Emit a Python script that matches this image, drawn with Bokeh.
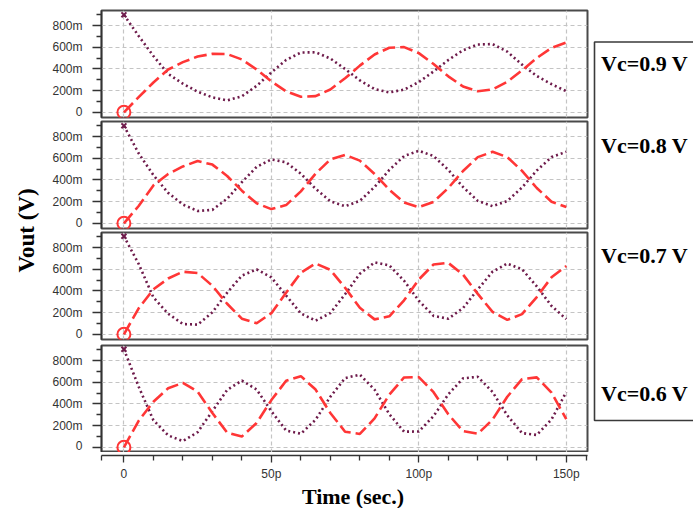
from bokeh.plotting import figure
from bokeh.layouts import row, column
from bokeh.models import Range1d, LinearAxis, FixedTicker, Grid
from bokeh.embed import file_html
from bokeh.resources import INLINE
from bokeh.core.properties import value
import math

# ---------------- data ----------------
time_ps = [0, 5, 10, 15, 20, 25, 30, 35, 40, 45, 50, 55, 60, 65, 70, 75,
           80, 85, 90, 95, 100, 105, 110, 115, 120, 125, 130, 135, 140, 145, 150]

vc_labels = ["Vc=0.9 V", "Vc=0.8 V", "Vc=0.7 V", "Vc=0.6 V"]

# values in mV
red_09 = [0, 140, 275, 395, 463, 515, 540, 538, 488, 395, 286, 193, 143, 149, 211, 314,
          431, 534, 596, 602, 546, 446, 332, 238, 194, 211, 281, 387, 501, 595, 644]
purple_09 = [900, 705, 520, 355, 264, 190, 138, 110, 148, 244, 368, 483, 552, 554, 497, 400,
             295, 214, 184, 209, 279, 377, 483, 573, 626, 630, 560, 440, 335, 260, 195]

red_08 = [0, 160, 350, 455, 525, 575, 542, 437, 301, 185, 131, 168, 295, 458, 589, 632,
          579, 456, 310, 193, 149, 198, 326, 483, 611, 660, 611, 484, 326, 199, 150]
purple_08 = [900, 646, 445, 281, 173, 114, 124, 227, 380, 521, 590, 563, 458, 319, 203, 158,
             207, 335, 493, 621, 670, 621, 493, 335, 207, 158, 206, 331, 487, 612, 660]

red_07 = [0, 240, 415, 515, 578, 566, 448, 282, 144, 102, 195, 384, 569, 654, 595, 430,
          245, 138, 166, 314, 506, 645, 659, 551, 373, 207, 133, 186, 344, 526, 630]
purple_07 = [905, 650, 340, 190, 95, 89, 203, 384, 542, 600, 525, 358, 193, 126, 196, 370,
             559, 664, 636, 495, 310, 170, 144, 242, 414, 578, 653, 600, 443, 262, 140]

red_06 = [0, 245, 420, 545, 595, 514, 316, 136, 100, 224, 436, 614, 657, 533, 317, 144,
          123, 267, 486, 645, 648, 509, 305, 149, 125, 256, 467, 629, 646, 505, 260]
purple_06 = [905, 560, 250, 110, 57, 140, 334, 530, 616, 534, 333, 155, 125, 255, 467, 639,
             671, 532, 306, 144, 146, 288, 489, 637, 651, 511, 295, 131, 114, 257, 510]

y_ticks = [0, 200, 400, 600, 800]
y_minor_ticks = [100, 300, 500, 700, 900]
y_tick_labels = ["0", "200m", "400m", "600m", "800m"]
x_ticks = [0, 50, 100, 150]
x_minor_ticks = [-7.5, 10, 20, 30, 40, 60, 70, 80, 90, 110, 120, 130, 140, 157]
x_tick_labels = ["0", "50p", "100p", "150p"]
x_title = "Time (sec.)"
y_title = "Vout (V)"

# ---------------- styling ----------------
RED = "#ff3636"
PURPLE = "#6e1b4b"
GRID = "#c4c4c4"
AXIS = "#333333"
SANS = "Liberation Sans"
SERIF = "Liberation Serif"

xr = Range1d(-7.6, 157.2)


def panel(red, purple, top, bottom):
    p = figure(width=550, height=top + 107 + bottom, x_range=xr, y_range=Range1d(-48, 940),
               x_axis_type=None, y_axis_type=None, toolbar_location=None,
               output_backend="svg", min_border_left=61, min_border_right=3,
               min_border_top=top, min_border_bottom=bottom)
    p.outline_line_color = "#4a4a4a"
    p.outline_line_width = 2
    yax = LinearAxis(ticker=FixedTicker(ticks=y_ticks, minor_ticks=y_minor_ticks),
                     major_label_overrides=dict(zip(y_ticks, y_tick_labels)))
    yax.axis_line_color = AXIS
    yax.axis_line_width = 1.5
    yax.major_tick_line_color = AXIS
    yax.minor_tick_line_color = AXIS
    yax.major_tick_line_width = 1.3
    yax.minor_tick_line_width = 1.3
    yax.major_tick_out = 9
    yax.major_tick_in = 0
    yax.minor_tick_out = 5
    yax.minor_tick_in = 0
    yax.major_label_standoff = 10
    yax.major_label_text_font = SANS
    yax.major_label_text_font_size = "12px"
    yax.major_label_text_color = "#333333"
    p.add_layout(yax, "left")
    p.add_layout(Grid(dimension=1, ticker=FixedTicker(ticks=y_ticks), grid_line_color=GRID,
                      grid_line_dash="4 3", grid_line_width=1.2))
    p.add_layout(Grid(dimension=0, ticker=FixedTicker(ticks=x_ticks), grid_line_color=GRID,
                      grid_line_dash="4 3", grid_line_width=1.2))
    p.line(time_ps, purple, line_color=PURPLE, line_width=2.6, line_dash="2 3")
    p.line(time_ps, red, line_color=RED, line_width=2.6, line_dash="13 5")
    p.scatter([time_ps[0]], [red[0]], marker="circle", size=13, fill_color=None,
              line_color=RED, line_width=2)
    p.scatter([time_ps[0]], [purple[0]], marker="x", size=7, line_color=PURPLE, line_width=2)
    return p


f1 = panel(red_09, purple_09, 10, 2)
f2 = panel(red_08, purple_08, 2, 2)
f3 = panel(red_07, purple_07, 2, 4)
f4 = panel(red_06, purple_06, 2, 0)

# bottom time axis (frame only 6 px tall, axis hangs below it)
f5 = figure(width=550, height=31, x_range=xr, y_range=Range1d(0, 1),
            x_axis_type=None, y_axis_type=None, toolbar_location=None,
            output_backend="svg", min_border_left=61, min_border_right=3,
            min_border_top=0, min_border_bottom=25)
f5.outline_line_color = None
xax = LinearAxis(ticker=FixedTicker(ticks=x_ticks, minor_ticks=x_minor_ticks),
                 major_label_overrides=dict(zip(x_ticks, x_tick_labels)))
xax.axis_line_color = AXIS
xax.axis_line_width = 1.5
xax.major_tick_line_color = AXIS
xax.minor_tick_line_color = AXIS
xax.major_tick_line_width = 1.3
xax.minor_tick_line_width = 1.3
xax.major_tick_out = 7
xax.major_tick_in = 0
xax.minor_tick_out = 5
xax.minor_tick_in = 0
xax.major_label_standoff = 4
xax.major_label_text_font = SANS
xax.major_label_text_font_size = "12px"
xax.major_label_text_color = "#333333"
f5.add_layout(xax, "below")

# x title strip (column aligns its frame with the panels: window x 101..587)
f6 = figure(width=550, height=25, x_range=Range1d(101, 587), y_range=Range1d(508, 483),
            x_axis_type=None, y_axis_type=None, toolbar_location=None,
            output_backend="svg", min_border_left=61, min_border_right=3,
            min_border_top=0, min_border_bottom=0)
f6.outline_line_color = None
f6.text(x=[352.5], y=[496], text=[x_title], text_font=value(SERIF), text_font_style="bold",
        text_font_size="22px", text_align="center", text_baseline="middle", text_color="black")

# left: y title
fl = figure(width=40, height=508, x_range=Range1d(0, 40), y_range=Range1d(0, 508),
            x_axis_type=None, y_axis_type=None, toolbar_location=None,
            output_backend="svg", min_border=0)
fl.outline_line_color = None
fl.text(x=[26], y=[508 - 230], text=[y_title], angle=math.pi / 2,
        text_font=value(SERIF), text_font_style="bold", text_font_size="23px",
        text_align="center", text_baseline="middle", text_color="black")

# right: legend box
fr = figure(width=103, height=508, x_range=Range1d(590, 693), y_range=Range1d(0, 508),
            x_axis_type=None, y_axis_type=None, toolbar_location=None,
            output_backend="svg", min_border=0)
fr.outline_line_color = None
fr.quad(left=[594], right=[720], top=[508 - 41.5], bottom=[508 - 420], fill_color=None,
        line_color="#3a3a3a", line_width=1.6)
fr.text(x=[600.5] * 4, y=[508 - 63, 508 - 145, 508 - 255, 508 - 393], text=vc_labels,
        text_font=value(SERIF), text_font_style="bold", text_font_size="22px",
        text_align="left", text_baseline="middle", text_color="black")

layout = row(fl, column(f1, f2, f3, f4, f5, f6), fr)
open("out.html", "w").write(file_html(layout, INLINE))
